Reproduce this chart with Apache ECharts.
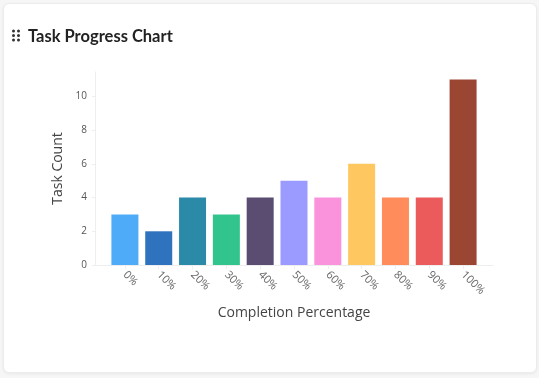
<!DOCTYPE html>
<html><head><meta charset="utf-8">
<script src="https://cdn.jsdelivr.net/npm/echarts@6/dist/echarts.min.js"></script>
<style>
html,body{margin:0;padding:0;background:#f6f6f6;width:539px;height:378px;overflow:hidden}
#card{position:absolute;left:3px;top:3px;width:532px;height:368px;background:#fff;border:1px solid #ececec;border-radius:6px;box-shadow:0 1px 3px rgba(0,0,0,0.06)}
#c{position:absolute;left:0;top:0;width:539px;height:378px}
</style></head>
<body>
<div id="card"></div>
<div id="c"></div>
<script>
var categories = ['0%','10%','20%','30%','40%','50%','60%','70%','80%','90%','100%'];
var taskCounts = [3,2,4,3,4,5,4,6,4,4,11];
var barColors = ['#4dabf7','#2f72be','#2a8aa8','#32c48d','#5b4c72','#9a9aff','#fb92dc','#ffc75f','#ff8c5a','#eb5b5b','#9b4632'];
var yTicks = [0,2,4,6,8,10];

var chart = echarts.init(document.getElementById('c'), null, {renderer:'canvas'});
var yMax = 11.45;
var dots = [];
[[13.5,31],[18.5,31],[13.5,35.5],[18.5,35.5],[13.5,40],[18.5,40]].forEach(function(p){
  dots.push({type:'circle',shape:{cx:p[0],cy:p[1],r:1.5},style:{fill:'#333'}});
});
chart.setOption({
  animation:false,
  backgroundColor:'transparent',
  title:{text:'Task Progress Chart',left:28,top:28,padding:0,
    textStyle:{fontFamily:'Lato',fontWeight:'bold',fontSize:16.5,color:'#222'}},
  graphic:dots,
  grid:[
    {left:95,top:72,width:398,height:193},
    {left:108,top:72,width:372,height:193}
  ],
  xAxis:[
    {gridIndex:0,type:'value',min:0,max:1,axisLine:{show:true,lineStyle:{color:'#eeeeee'}},
     axisTick:{show:false},axisLabel:{show:false},splitLine:{show:false}},
    {gridIndex:1,type:'category',data:categories,
     axisLine:{show:false},
     axisTick:{show:true,alignWithLabel:true,length:4,lineStyle:{color:'#eeeeee'}},
     axisLabel:{rotate:-45,margin:8,fontSize:11,color:'#666',fontFamily:'Open Sans'},
     name:'Completion Percentage',nameLocation:'middle',nameGap:41,
     nameTextStyle:{fontSize:14,color:'#444',fontFamily:'Open Sans'}}
  ],
  yAxis:[
    {gridIndex:0,type:'value',min:0,max:yMax,interval:2,
     axisLine:{show:true,lineStyle:{color:'#eeeeee'}},
     axisTick:{show:true,length:3,lineStyle:{color:'#eeeeee'}},
     axisLabel:{showMaxLabel:false,fontSize:10,color:'#555',margin:8,fontFamily:'Open Sans',
       formatter:function(v){return yTicks.indexOf(v)>=0?String(v):'';}},
     splitLine:{show:false},
     name:'Task Count',nameLocation:'middle',nameGap:29,
     nameTextStyle:{fontSize:14,color:'#444',fontFamily:'Open Sans'}},
    {gridIndex:1,type:'value',min:0,max:yMax,show:false,splitLine:{show:false}}
  ],
  series:[{
    type:'bar',xAxisIndex:1,yAxisIndex:1,barWidth:27,
    data:taskCounts.map(function(v,i){return {value:v,itemStyle:{color:barColors[i]}};})
  }]
});
</script>
</body></html>
